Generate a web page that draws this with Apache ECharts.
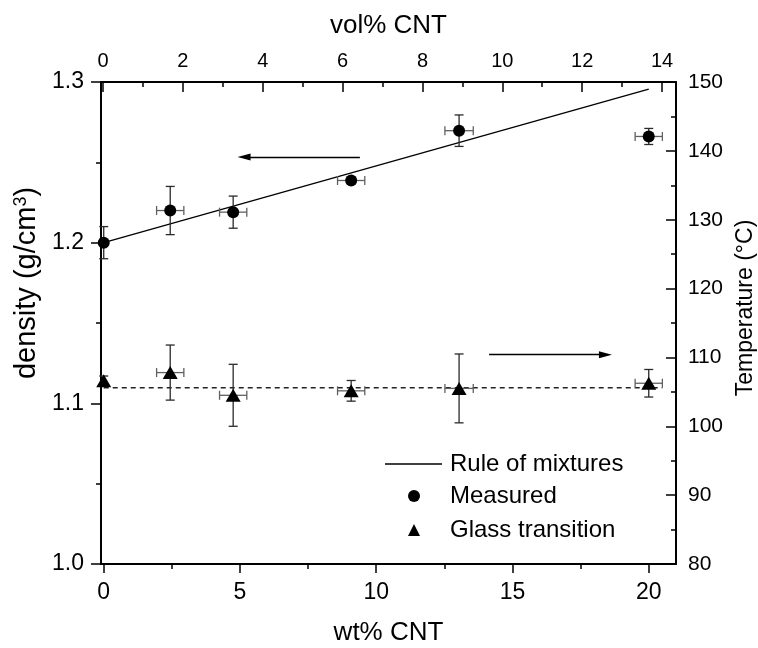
<!DOCTYPE html>
<html><head><meta charset="utf-8">
<script src="https://cdn.jsdelivr.net/npm/echarts@6/dist/echarts.min.js"></script>
<style>html,body{margin:0;padding:0;background:#fff}#c{width:758px;height:648px}</style>
</head><body><div id="c"></div>
<script>
// ---- data ----
const wtPct      = [0, 2.44, 4.75, 9.08, 13.04, 20.0];
const wtErr      = [0, 0.5, 0.5, 0.5, 0.52, 0.5];
const density    = [1.200, 1.220, 1.219, 1.2387, 1.2697, 1.2661];
const densityErr = [0.010, 0.015, 0.010, 0.002, 0.0098, 0.005];
const tg         = [106.6, 107.8, 104.5, 105.15, 105.5, 106.25];
const tgErr      = [0.7, 4.0, 4.5, 1.5, 5.0, 2.0];
const romWt      = [0, 20];
const romDensity = [1.2, 1.2956];
const tgMeanWt   = [0, 20.5];
const tgMean     = 105.6;
const wtTicks    = [0, 5, 10, 15, 20];
const wtMinor    = [2.5, 7.5, 12.5, 17.5];
const volTicks   = [0, 2, 4, 6, 8, 10, 12, 14];
const volMinor   = [1, 3, 5, 7, 9, 11, 13];
const densityArrow = [[9.4, 1.2533], [5.15, 1.2533]];
const tgArrow      = [[14.14, 110.4], [18.41, 110.4]];

const FONT = 'Liberation Sans, Arial, sans-serif';
const zip = (a, b) => a.map((v, i) => [v, b[i]]);

function errRender(params, api) {
  const x = api.value(0), y = api.value(1), ex = api.value(2), ey = api.value(3);
  const c = api.coord([x, y]);
  const ch = [];
  const cap = 4.5;
  const vs = { stroke: '#2a2a2a', lineWidth: 1.3 };
  const hs = { stroke: '#606060', lineWidth: 1.3 };
  if (ey > 0) {
    const t = api.coord([x, y + ey])[1], b = api.coord([x, y - ey])[1];
    ch.push({ type: 'line', shape: { x1: c[0], y1: t, x2: c[0], y2: b }, style: vs });
    ch.push({ type: 'line', shape: { x1: c[0] - cap, y1: t, x2: c[0] + cap, y2: t }, style: vs });
    ch.push({ type: 'line', shape: { x1: c[0] - cap, y1: b, x2: c[0] + cap, y2: b }, style: vs });
  }
  if (ex > 0) {
    const l = api.coord([x - ex, y])[0], r = api.coord([x + ex, y])[0];
    ch.push({ type: 'line', shape: { x1: l, y1: c[1], x2: r, y2: c[1] }, style: hs });
    ch.push({ type: 'line', shape: { x1: l, y1: c[1] - cap, x2: l, y2: c[1] + cap }, style: hs });
    ch.push({ type: 'line', shape: { x1: r, y1: c[1] - cap, x2: r, y2: c[1] + cap }, style: hs });
  }
  return { type: 'group', children: ch };
}

const axisLineStyle = { color: '#000', width: 2 };
const tickStyle = { color: '#000', width: 1.5 };
const legendText = { fontFamily: FONT, fontSize: 24, lineHeight: 22, color: '#000' };

const chart = echarts.init(document.getElementById('c'), null, { renderer: 'canvas' });
chart.setOption({
  backgroundColor: '#fff',
  animation: false,
  textStyle: { fontFamily: FONT, color: '#000' },
  grid: { left: 101, right: 82, top: 82, bottom: 84, containLabel: false, outerBoundsMode: 'none' },
  legend: [
    {
      data: [{ name: 'Rule of mixtures', icon: 'path://M0,0L57,0L57,1.3L0,1.3Z', itemStyle: { color: '#000' } }],
      orient: 'vertical', left: 385, top: 452, padding: 0,
      itemWidth: 57, itemHeight: 1.3, symbolKeepAspect: true,
      textStyle: Object.assign({ padding: [0, 0, 0, 3] }, legendText)
    },
    {
      data: ['Measured', 'Glass transition'],
      orient: 'vertical', left: 408, top: 484, padding: 0,
      itemWidth: 12, itemHeight: 12, itemGap: 10, symbolKeepAspect: true,
      textStyle: Object.assign({ padding: [0, 0, 0, 25] }, legendText)
    }
  ],
  xAxis: [
    { // bottom data axis
      type: 'value', position: 'bottom', min: -0.1, max: 21,
      name: 'wt% CNT', nameLocation: 'middle', nameGap: 56,
      nameTextStyle: { fontFamily: FONT, fontSize: 26, color: '#000' },
      axisLine: { show: true, onZero: false, lineStyle: axisLineStyle },
      axisTick: { show: true, inside: false, length: 9, customValues: wtTicks, lineStyle: tickStyle },
      axisLabel: { show: true, customValues: wtTicks, margin: 17, fontSize: 23, fontFamily: FONT, color: '#000' },
      splitLine: { show: false }
    },
    { // top vol% axis
      type: 'value', position: 'top', min: -0.05, max: 14.35,
      name: 'vol% CNT', nameLocation: 'middle', nameGap: 43,
      nameTextStyle: { fontFamily: FONT, fontSize: 26, color: '#000' },
      axisLine: { show: true, onZero: false, lineStyle: axisLineStyle },
      axisTick: { show: true, inside: true, length: 10, customValues: volTicks, lineStyle: tickStyle },
      axisLabel: { show: true, customValues: volTicks, margin: 11, fontSize: 20, fontFamily: FONT, color: '#000' },
      splitLine: { show: false }
    },
    { // top minor ticks
      type: 'value', position: 'top', min: -0.05, max: 14.35,
      axisLine: { show: false, onZero: false },
      axisTick: { show: true, inside: true, length: 5, customValues: volMinor, lineStyle: tickStyle },
      axisLabel: { show: false }, splitLine: { show: false }
    },
    { // bottom minor ticks
      type: 'value', position: 'bottom', min: -0.1, max: 21,
      axisLine: { show: false, onZero: false },
      axisTick: { show: true, inside: false, length: 5, customValues: wtMinor, lineStyle: tickStyle },
      axisLabel: { show: false }, splitLine: { show: false }
    }
  ],
  yAxis: [
    {
      type: 'value', position: 'left', min: 1.0, max: 1.3, interval: 0.1,
      name: 'density (g/cm{sup|3})', nameLocation: 'middle', nameGap: 49,
      nameTextStyle: {
        fontFamily: FONT, fontSize: 29, color: '#000', padding: [0, 0, 0, 80],
        rich: { sup: { fontFamily: FONT, fontSize: 18, color: '#000', verticalAlign: 'top', padding: [0, 0, 12, 0] } }
      },
      axisLine: { show: true, onZero: false, lineStyle: axisLineStyle },
      axisTick: { show: true, inside: false, length: 10, lineStyle: tickStyle },
      minorTick: { show: true, splitNumber: 2, length: 5, lineStyle: tickStyle },
      axisLabel: { margin: 17, fontSize: 23, fontFamily: FONT, color: '#000', formatter: v => v.toFixed(1) },
      splitLine: { show: false }, minorSplitLine: { show: false }
    },
    {
      type: 'value', position: 'right', min: 80, max: 150, interval: 10,
      name: 'Temperature (°C)', nameLocation: 'middle', nameGap: 57,
      nameTextStyle: { fontFamily: FONT, fontSize: 23, color: '#000', padding: [0, 0, 0, 30] },
      axisLine: { show: true, onZero: false, lineStyle: axisLineStyle },
      axisTick: { show: true, inside: true, length: 10, lineStyle: tickStyle },
      minorTick: { show: true, splitNumber: 2, length: 5, lineStyle: tickStyle },
      axisLabel: { margin: 12, fontSize: 21, fontFamily: FONT, color: '#000' },
      splitLine: { show: false }, minorSplitLine: { show: false }
    }
  ],
  series: [
    {
      name: 'Rule of mixtures', type: 'line', xAxisIndex: 0, yAxisIndex: 0,
      data: zip(romWt, romDensity), symbol: 'none',
      lineStyle: { color: '#000', width: 1.3 }, itemStyle: { color: '#000' }, z: 2,
      markLine: {
        silent: true, symbol: ['none', 'triangle'], symbolSize: 10,
        label: { show: false },
        lineStyle: { color: '#000', width: 1.3, type: 'solid' },
        data: [[{ coord: densityArrow[0] },
                { coord: densityArrow[1], symbol: 'triangle', symbolSize: [7, 13] }]]
      }
    },
    {
      name: 'Tg mean', type: 'line', xAxisIndex: 0, yAxisIndex: 1,
      data: tgMeanWt.map(x => [x, tgMean]), symbol: 'none',
      lineStyle: { color: '#222', width: 1.3, type: [5, 4] }, z: 2,
      markLine: {
        silent: true, symbol: ['none', 'triangle'], symbolSize: 10,
        label: { show: false },
        lineStyle: { color: '#000', width: 1.3, type: 'solid' },
        data: [[{ coord: tgArrow[0] },
                { coord: tgArrow[1], symbol: 'triangle', symbolSize: [7, 13] }]]
      }
    },
    {
      name: 'density err', type: 'custom', xAxisIndex: 0, yAxisIndex: 0,
      renderItem: errRender, z: 3,
      data: wtPct.map((x, i) => [x, density[i], wtErr[i], densityErr[i]])
    },
    {
      name: 'tg err', type: 'custom', xAxisIndex: 0, yAxisIndex: 1,
      renderItem: errRender, z: 3,
      data: wtPct.map((x, i) => [x, tg[i], wtErr[i], tgErr[i]])
    },
    {
      name: 'Measured', type: 'scatter', xAxisIndex: 0, yAxisIndex: 0,
      data: zip(wtPct, density), symbol: 'circle', symbolSize: 12,
      itemStyle: { color: '#000', opacity: 1 }, z: 5
    },
    {
      name: 'Glass transition', type: 'scatter', xAxisIndex: 0, yAxisIndex: 1,
      data: zip(wtPct, tg), symbol: 'triangle', symbolSize: [15, 13],
      itemStyle: { color: '#000', opacity: 1 }, z: 5
    }
  ]
});
</script></body></html>
